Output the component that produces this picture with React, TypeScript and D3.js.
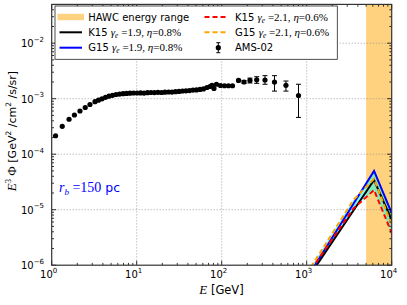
import * as d3 from 'd3';

const W = 407;
const H = 305;
const PLOT = { left: 51.7, right: 391.7, top: 4.4, bottom: 265.2 };
const SANS = 'DejaVu Sans';
const SERIF = 'Liberation Serif';

// AMS-02 points (E in GeV, E^3 flux in GeV^2/cm^2/s/sr)
const amsEnergy = [
  1.11, 1.33, 1.6, 1.85, 2.15, 2.48, 2.82, 3.23, 3.55, 3.91, 4.3, 4.72, 5.19, 5.71, 6.28, 6.9,
  7.59, 8.34, 9.17, 10.1, 11.1, 12.2, 13.4, 14.7, 16.2, 17.8, 19.6, 21.5, 23.7, 26.0, 28.6,
  31.5, 34.6, 38.0, 41.8, 45.9, 50.5, 55.6, 61.1, 67.1, 72.8, 76.9, 81.1, 86.8, 96.8, 108,
  120, 134, 158, 183, 215, 258, 323, 418, 570, 801,
];
const amsFlux = [
  2.15e-4, 3.18e-4, 4.26e-4, 5.08e-4, 6.0e-4, 6.94e-4, 7.86e-4, 8.83e-4, 9.4e-4, 9.96e-4,
  1.06e-3, 1.11e-3, 1.15e-3, 1.19e-3, 1.21e-3, 1.23e-3, 1.245e-3, 1.256e-3, 1.266e-3,
  1.266e-3, 1.272e-3, 1.26e-3, 1.283e-3, 1.294e-3, 1.288e-3, 1.305e-3, 1.294e-3, 1.31e-3,
  1.32e-3, 1.316e-3, 1.337e-3, 1.35e-3, 1.377e-3, 1.388e-3, 1.4e-3, 1.43e-3, 1.44e-3,
  1.47e-3, 1.5e-3, 1.59e-3, 1.66e-3, 1.74e-3, 1.53e-3, 1.82e-3, 1.73e-3, 1.71e-3, 1.71e-3,
  1.71e-3, 2.13e-3, 2.0e-3, 2.13e-3, 2.19e-3, 2.17e-3, 2.0e-3, 1.74e-3, 1.14e-3,
];
const amsErrUp = [
  0, 0, 0, 0, 0, 0, 0, 0, 0, 0, 0, 0, 0, 0, 0, 0, 0, 0, 0, 0, 0, 0, 0, 0, 0, 0, 0, 0, 0, 0,
  0, 0, 0, 0, 0, 0, 0, 0, 0, 0, 0, 0, 0, 0, 0, 0, 0, 0, 0.1e-3, 0.13e-3, 0.22e-3, 0.3e-3,
  0.43e-3, 0.6e-3, 0.34e-3, 0.68e-3,
];
const amsErrDown = [
  0, 0, 0, 0, 0, 0, 0, 0, 0, 0, 0, 0, 0, 0, 0, 0, 0, 0, 0, 0, 0, 0, 0, 0, 0, 0, 0, 0, 0, 0,
  0, 0, 0, 0, 0, 0, 0, 0, 0, 0, 0, 0, 0, 0, 0, 0, 0, 0, 0.1e-3, 0.12e-3, 0.21e-3, 0.3e-3,
  0.35e-3, 0.63e-3, 0.37e-3, 0.68e-3,
];

// model spectra, r_b = 150 pc
const modelEnergy = [1000, 3550, 6200, 10000];
const k15Hard = [5.4e-7, 9.7e-6, 3.43e-5, 6.5e-6]; // K15 gamma 1.9, eta 0.8%
const g15Hard = [5.75e-7, 1.28e-5, 5.0e-5, 8.7e-6]; // G15 gamma 1.9, eta 0.8%
const k15Soft = [6.4e-7, 1.05e-5, 2.26e-5, 3.8e-6]; // K15 gamma 2.1, eta 0.6%
const g15Soft = [7.0e-7, 1.5e-5, 3.6e-5, 5.3e-6]; // G15 gamma 2.1, eta 0.6%

const hawcRange = [5000, 1.2e4];

const xTicks = [1, 10, 100, 1000, 10000];
const xTickExp = ['0', '1', '2', '3', '4'];
const yTicks = [1e-6, 1e-5, 1e-4, 1e-3, 1e-2];
const yTickExp = ['−6', '−5', '−4', '−3', '−2'];

const x = d3.scaleLog().domain([1, 1e4]).range([PLOT.left, PLOT.right]);
const y = d3.scaleLog().domain([1e-6, 5e-2]).range([PLOT.bottom, PLOT.top]);

function minorTicks(lo: number, hi: number) {
  const out: number[] = [];
  for (let d = Math.floor(Math.log10(lo)); d <= Math.ceil(Math.log10(hi)); d++) {
    for (let m = 2; m <= 9; m++) {
      const v = m * Math.pow(10, d);
      if (v > lo && v < hi) out.push(v);
    }
  }
  return out;
}

// piecewise power law through the knots
function interp(vals: number[], e: number) {
  const le = Math.log10(e);
  const lx = modelEnergy.map(Math.log10);
  let i = 0;
  while (i < lx.length - 2 && le > lx[i + 1]) i++;
  const t = (le - lx[i]) / (lx[i + 1] - lx[i]);
  return Math.pow(10, Math.log10(vals[i]) + t * (Math.log10(vals[i + 1]) - Math.log10(vals[i])));
}

export default function App() {
  const line = d3
    .line<number>()
    .x((_, i) => x(modelEnergy[i]))
    .y((v) => y(v));

  const curves = [k15Hard, g15Hard, k15Soft, g15Soft];
  const sampleE = d3.range(0, 201).map((i) => Math.pow(10, 3 + i / 200));
  const band = d3
    .area<number>()
    .x((e) => x(e))
    .y0((e) => y(d3.min(curves, (c) => interp(c, e))!))
    .y1((e) => y(d3.max(curves, (c) => interp(c, e))!));

  const styles = [
    { data: k15Hard, color: '#000000', dash: undefined },
    { data: g15Hard, color: '#0000ff', dash: undefined },
    { data: k15Soft, color: '#ff0000', dash: '5,3' },
    { data: g15Soft, color: '#ffa500', dash: '5,3' },
  ];

  const xMinor = minorTicks(1, 1e4);
  const yMinor = minorTicks(1e-6, 5e-2);

  const rows = [17, 32.3, 47.7];

  return (
    <div style={{ position: 'absolute', left: 0, top: 0 }}>
      <svg width={W} height={H} style={{ display: 'block', background: '#fff' }}>
        <defs>
          <clipPath id="plotClip">
            <rect x={PLOT.left} y={PLOT.top} width={PLOT.right - PLOT.left} height={PLOT.bottom - PLOT.top} />
          </clipPath>
        </defs>

        {/* HAWC band */}
        <rect
          x={x(hawcRange[0])}
          y={PLOT.top}
          width={PLOT.right - x(hawcRange[0])}
          height={PLOT.bottom - PLOT.top}
          fill="#ffa500"
          opacity={0.5}
        />

        {/* grid */}
        <g stroke="#8c8c8c" strokeWidth={0.8} strokeDasharray="1,2">
          {xTicks.slice(1, -1).map((t) => (
            <line key={'gx' + t} x1={x(t)} x2={x(t)} y1={PLOT.top} y2={PLOT.bottom} />
          ))}
          {yTicks.slice(1).map((t) => (
            <line key={'gy' + t} x1={PLOT.left} x2={PLOT.right} y1={y(t)} y2={y(t)} />
          ))}
        </g>

        <g clipPath="url(#plotClip)">
          <path d={band(sampleE)!} fill="#00ffff" opacity={0.5} />
          {styles.map((s, i) => (
            <path
              key={i}
              d={line(s.data)!}
              fill="none"
              stroke={s.color}
              strokeWidth={2}
              strokeDasharray={s.dash}
            />
          ))}
        </g>

        {/* AMS-02 data */}
        <g>
          {amsEnergy.map((e, i) =>
            amsErrUp[i] > 0 ? (
              <g key={'eb' + i} stroke="#000" strokeWidth={1}>
                <line x1={x(e)} x2={x(e)} y1={y(amsFlux[i] + amsErrUp[i])} y2={y(amsFlux[i] - amsErrDown[i])} />
                <line x1={x(e) - 2.5} x2={x(e) + 2.5} y1={y(amsFlux[i] + amsErrUp[i])} y2={y(amsFlux[i] + amsErrUp[i])} />
                <line x1={x(e) - 2.5} x2={x(e) + 2.5} y1={y(amsFlux[i] - amsErrDown[i])} y2={y(amsFlux[i] - amsErrDown[i])} />
              </g>
            ) : null
          )}
          {amsEnergy.map((e, i) => (
            <circle key={'p' + i} cx={x(e)} cy={y(amsFlux[i])} r={2.6} fill="#000" />
          ))}
        </g>

        {/* ticks */}
        <g stroke="#000" strokeWidth={0.8}>
          {xTicks.map((t) => (
            <g key={'xt' + t}>
              <line x1={x(t)} x2={x(t)} y1={PLOT.bottom} y2={PLOT.bottom - 4.5} />
              <line x1={x(t)} x2={x(t)} y1={PLOT.top} y2={PLOT.top + 4.5} />
            </g>
          ))}
          {xMinor.map((t) => (
            <g key={'xm' + t}>
              <line x1={x(t)} x2={x(t)} y1={PLOT.bottom} y2={PLOT.bottom - 2.3} />
              <line x1={x(t)} x2={x(t)} y1={PLOT.top} y2={PLOT.top + 2.3} />
            </g>
          ))}
          {yTicks.map((t) => (
            <g key={'yt' + t}>
              <line x1={PLOT.left} x2={PLOT.left + 4.5} y1={y(t)} y2={y(t)} />
              <line x1={PLOT.right} x2={PLOT.right - 4.5} y1={y(t)} y2={y(t)} />
            </g>
          ))}
          {yMinor.map((t) => (
            <g key={'ym' + t}>
              <line x1={PLOT.left} x2={PLOT.left + 2.3} y1={y(t)} y2={y(t)} />
              <line x1={PLOT.right} x2={PLOT.right - 2.3} y1={y(t)} y2={y(t)} />
            </g>
          ))}
        </g>

        <rect
          x={PLOT.left}
          y={PLOT.top}
          width={PLOT.right - PLOT.left}
          height={PLOT.bottom - PLOT.top}
          fill="none"
          stroke="#333"
          strokeWidth={1.2}
        />

        {/* tick labels */}
        <g fontFamily={SANS} fill="#000">
          {xTicks.map((t, i) => (
            <text key={'xl' + t} x={x(t) - 3} y={278} fontSize={10} textAnchor="middle">
              10<tspan dy={-5.5} fontSize={7}>{xTickExp[i]}</tspan>
            </text>
          ))}
          {yTicks.map((t, i) => (
            <text key={'yl' + t} x={44} y={y(t) + 4} fontSize={10} textAnchor="end">
              10<tspan dy={-5.5} fontSize={7}>{yTickExp[i]}</tspan>
            </text>
          ))}
        </g>

        {/* axis labels */}
        <text x={221.5} y={294} textAnchor="middle" fontFamily={SANS} fontSize={11.5}>
          <tspan fontFamily={SERIF} fontStyle="italic" fontSize={13}>E</tspan> [GeV]
        </text>
        <text transform="translate(16,131) rotate(-90)" textAnchor="middle" fontFamily={SANS} fontSize={11}>
          <tspan fontFamily={SERIF} fontStyle="italic" fontSize={13}>E</tspan>
          <tspan fontFamily={SERIF} fontSize={8.5} dy={-5}>3</tspan>
          <tspan fontFamily={SERIF} fontSize={13} dy={5}> Φ</tspan>
          <tspan> [GeV</tspan>
          <tspan fontSize={7.5} dy={-5}>2</tspan>
          <tspan dy={5}> /cm</tspan>
          <tspan fontSize={7.5} dy={-5}>2</tspan>
          <tspan dy={5}> /s/sr]</tspan>
        </text>

        {/* r_b annotation */}
        <text x={59} y={191.7} fill="#0000ff" fontFamily={SERIF} fontSize={14}>
          <tspan fontStyle="italic">r</tspan>
          <tspan fontStyle="italic" fontSize={9} dy={3}>b</tspan>
          <tspan dy={-3}> =150</tspan>
          <tspan fontFamily={SANS} fontSize={12.5}> pc</tspan>
        </text>

        {/* legend */}
        <g>
          <rect x={55} y={6} width={282.3} height={53.3} fill="#fff" stroke="#222" strokeWidth={0.8} />
          <rect x={57.5} y={rows[0] - 3.2} width={26.5} height={6.4} fill="#ffa500" opacity={0.5} />
          <line x1={59.5} x2={82} y1={rows[1]} y2={rows[1]} stroke="#000" strokeWidth={2} />
          <line x1={59.5} x2={82} y1={rows[2]} y2={rows[2]} stroke="#0000ff" strokeWidth={2} />
          <line x1={204.5} x2={227} y1={rows[0]} y2={rows[0]} stroke="#ff0000" strokeWidth={2} strokeDasharray="5,3" />
          <line x1={204.5} x2={227} y1={rows[1]} y2={rows[1]} stroke="#ffa500" strokeWidth={2} strokeDasharray="5,3" />
          <line x1={218.3} x2={218.3} y1={rows[2] - 5} y2={rows[2] + 5} stroke="#000" strokeWidth={1} />
          <line x1={216.3} x2={220.3} y1={rows[2] - 5} y2={rows[2] - 5} stroke="#000" strokeWidth={1} />
          <line x1={216.3} x2={220.3} y1={rows[2] + 5} y2={rows[2] + 5} stroke="#000" strokeWidth={1} />
          <circle cx={218.3} cy={rows[2]} r={2.6} fill="#000" />

          <g fontFamily={SANS} fontSize={10} fill="#000">
            <text x={88.3} y={rows[0] + 3.6}>HAWC energy range</text>
            {[
              { x: 88.3, y: rows[1], name: 'K15', g: '1.9', eta: '0.8' },
              { x: 88.3, y: rows[2], name: 'G15', g: '1.9', eta: '0.8' },
              { x: 235, y: rows[0], name: 'K15', g: '2.1', eta: '0.6' },
              { x: 235, y: rows[1], name: 'G15', g: '2.1', eta: '0.6' },
            ].map((l, i) => (
              <text key={'lg' + i} x={l.x} y={l.y + 3.6}>
                {l.name + ' '}
                <tspan fontFamily={SERIF} fontSize={11} fontStyle="italic">γ</tspan>
                <tspan fontFamily={SERIF} fontSize={7.5} fontStyle="italic" dy={2}>e</tspan>
                <tspan fontFamily={SERIF} fontSize={11} dy={-2}>{` =${l.g}, `}</tspan>
                <tspan fontFamily={SERIF} fontSize={11} fontStyle="italic">η</tspan>
                <tspan fontFamily={SERIF} fontSize={11}>{`=${l.eta}%`}</tspan>
              </text>
            ))}
            <text x={235} y={rows[2] + 3.6}>AMS-02</text>
          </g>
        </g>
      </svg>
    </div>
  );
}
